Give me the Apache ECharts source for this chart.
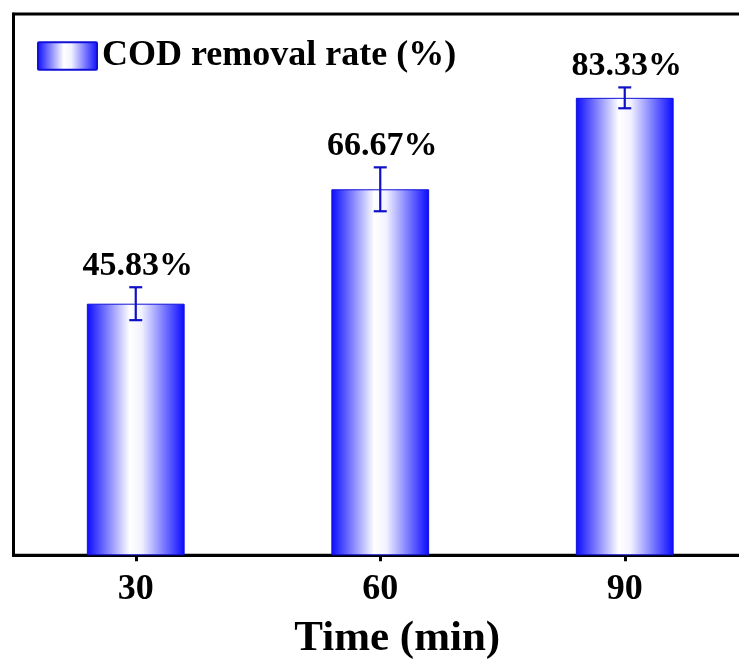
<!DOCTYPE html>
<html>
<head>
<meta charset="utf-8">
<script src="https://cdn.jsdelivr.net/npm/echarts@6/dist/echarts.min.js"></script>
<style>
html,body{margin:0;padding:0;background:#fff;}
#chart{width:739px;height:659px;}
</style>
</head>
<body>
<div id="chart"></div>
<script>
const categories = ['30', '60', '90'];
const removalRate = [45.83, 66.67, 83.33];
const errorRate = [3.0, 4.0, 1.9];
const valueLabels = ['45.83%', '66.67%', '83.33%'];
const seriesName = 'COD removal rate (%)';
const xAxisName = 'Time (min)';

const FONT = '"Liberation Serif", "Times New Roman", serif';
const barGradient = {
  type: 'linear', x: 0, y: 0, x2: 1, y2: 0,
  colorStops: [
    { offset: 0, color: '#0a0aff' },
    { offset: 0.44, color: '#ffffff' },
    { offset: 0.56, color: '#f2f2ff' },
    { offset: 1, color: '#0a0aff' }
  ]
};

const errData = categories.map((c, i) => [i, removalRate[i] - errorRate[i], removalRate[i] + errorRate[i], valueLabels[i]]);

const chart = echarts.init(document.getElementById('chart'), null, { renderer: 'canvas' });
chart.setOption({
  animation: false,
  backgroundColor: '#fff',
  grid: {
    left: 13.5, right: -8, top: 14, bottom: 103.7,
    outerBoundsMode: 'none',
    containLabel: false,
    show: true, borderColor: '#000', borderWidth: 3, backgroundColor: 'transparent'
  },
  legend: {
    left: 37, top: 38, padding: 0,
    itemWidth: 59, itemHeight: 28, itemGap: 10,
    icon: 'path://M1,0 L59,0 Q60,0 60,1 L60,27 Q60,28 59,28 L1,28 Q0,28 0,27 L0,1 Q0,0 1,0 Z',
    data: [seriesName],
    textStyle: { fontFamily: FONT, fontSize: 36, fontWeight: 'bold', color: '#000' }
  },
  xAxis: {
    type: 'category',
    data: categories,
    name: xAxisName,
    nameLocation: 'middle',
    nameGap: 62,
    nameTextStyle: { fontFamily: FONT, fontSize: 43, fontWeight: 'bold', color: '#000', padding: [0, 0, 0, 34] },
    axisLine: { show: true, lineStyle: { color: '#000', width: 3 } },
    axisTick: { show: true, alignWithLabel: true, length: 6, lineStyle: { color: '#000', width: 3 } },
    axisLabel: { fontFamily: FONT, fontSize: 36, fontWeight: 'bold', color: '#000', margin: 16 },
    splitLine: { show: false }
  },
  yAxis: {
    type: 'value',
    min: 0, max: 98.6,
    axisLine: { show: true, lineStyle: { color: '#000', width: 3 } },
    axisTick: { show: false },
    axisLabel: { show: false },
    splitLine: { show: false }
  },
  series: [
    {
      name: seriesName,
      type: 'bar',
      data: removalRate,
      barWidth: '40%',
      itemStyle: { color: barGradient, borderColor: '#1010d8', borderWidth: 1 }
    },
    {
      name: 'error',
      type: 'custom',
      data: errData,
      z: 5,
      renderItem: function (params, api) {
        const x = api.coord([api.value(0), 0])[0];
        const lo = api.coord([api.value(0), api.value(1)])[1];
        const hi = api.coord([api.value(0), api.value(2)])[1];
        const hw = 6.5;
        const st = { stroke: '#1010c8', lineWidth: 2.2 };
        return {
          type: 'group',
          children: [
            { type: 'line', shape: { x1: x, y1: lo, x2: x, y2: hi }, style: st },
            { type: 'line', shape: { x1: x - hw, y1: lo, x2: x + hw, y2: lo }, style: st },
            { type: 'line', shape: { x1: x - hw, y1: hi, x2: x + hw, y2: hi }, style: st },
            { type: 'text', x: x + 2, y: hi - 21, style: {
                text: api.value(3), fill: '#000', font: 'bold 34px ' + FONT,
                textAlign: 'center', textVerticalAlign: 'middle'
              } }
          ]
        };
      }
    }
  ]
});
</script>
</body>
</html>
